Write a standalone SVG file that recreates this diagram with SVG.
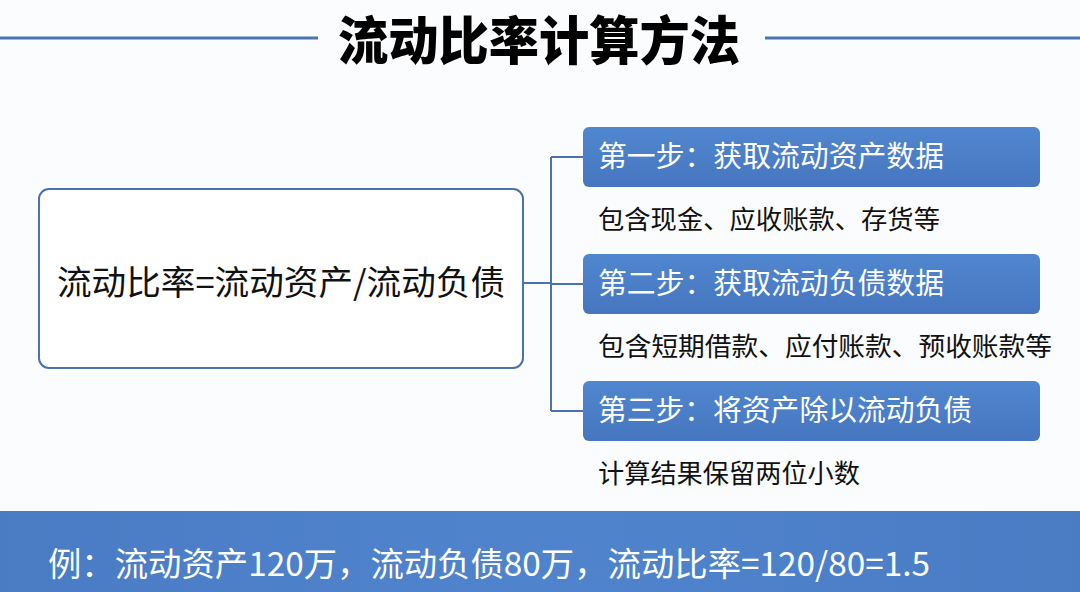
<svg xmlns="http://www.w3.org/2000/svg" width="1080" height="592" viewBox="0 0 1080 592">
<defs>
<linearGradient id="stepFill" x1="0" y1="0" x2="0" y2="1">
<stop offset="0" stop-color="#5087cf"/>
<stop offset="1" stop-color="#4676bf"/>
</linearGradient>
<linearGradient id="bandFill" x1="0" y1="0" x2="1" y2="0">
<stop offset="0" stop-color="#4a7cc4"/>
<stop offset="0.5" stop-color="#4f84cc"/>
<stop offset="1" stop-color="#4a7cc4"/>
</linearGradient>
<style>
.cjk{font-family:"Noto Sans CJK SC","Noto Sans",sans-serif;}
.title{font-size:52px;font-weight:900;fill:#000;}
.rule{stroke:#4a74b4;stroke-width:3;}
.main{font-size:34px;fill:#111;}
.step{fill:url(#stepFill);}
.stepText{font-size:29px;fill:#fff;}
.sub{font-size:26px;fill:#111;}
.conn{fill:none;stroke:#4a72b0;stroke-width:2;}
.band{fill:url(#bandFill);}
.bandText{font-size:33px;fill:#fff;}
</style>
</defs>
<rect x="0" y="0" width="1080" height="592" fill="#fbfcfd"/>
<g id="title">
<line class="rule" x1="0" y1="38" x2="318" y2="38"/>
<line class="rule" x1="765" y1="38" x2="1080" y2="38"/>
<text class="cjk title" x="539" y="60" text-anchor="middle" textLength="402" lengthAdjust="spacingAndGlyphs">流动比率计算方法</text>
</g>
<g id="connectors">
<path class="conn" d="M523,283 H551 M551,157 V411 M551,157 H583 M551,284 H583 M551,411 H583"/>
</g>
<g id="formula">
<rect x="39" y="189" width="484" height="179" rx="10" fill="#ffffff" stroke="#4a72b0" stroke-width="2"/>
<text class="cjk main" x="281" y="295" text-anchor="middle" textLength="448" lengthAdjust="spacingAndGlyphs">流动比率=流动资产/流动负债</text>
</g>
<g id="step1">
<rect class="step" x="583" y="127" width="457" height="60" rx="6"/>
<text class="cjk stepText" x="598" y="167" textLength="346" lengthAdjust="spacingAndGlyphs">第一步：获取流动资产数据</text>
</g>
<g id="sub1">
<text class="cjk sub" x="598" y="229" textLength="342" lengthAdjust="spacingAndGlyphs">包含现金、应收账款、存货等</text>
</g>
<g id="step2">
<rect class="step" x="583" y="254" width="457" height="60" rx="6"/>
<text class="cjk stepText" x="598" y="294" textLength="346" lengthAdjust="spacingAndGlyphs">第二步：获取流动负债数据</text>
</g>
<g id="sub2">
<text class="cjk sub" x="598" y="356" textLength="454" lengthAdjust="spacingAndGlyphs">包含短期借款、应付账款、预收账款等</text>
</g>
<g id="step3">
<rect class="step" x="583" y="381" width="457" height="60" rx="6"/>
<text class="cjk stepText" x="598" y="421" textLength="374" lengthAdjust="spacingAndGlyphs">第三步：将资产除以流动负债</text>
</g>
<g id="sub3">
<text class="cjk sub" x="598" y="483" textLength="262" lengthAdjust="spacingAndGlyphs">计算结果保留两位小数</text>
</g>
<g id="example">
<rect class="band" x="0" y="511" width="1080" height="81"/>
<text class="cjk bandText" x="48" y="576" textLength="882" lengthAdjust="spacingAndGlyphs">例：流动资产120万，流动负债80万，流动比率=120/80=1.5</text>
</g>
</svg>
